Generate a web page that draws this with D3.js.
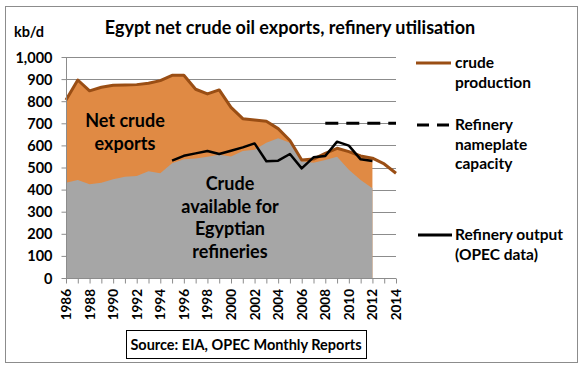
<!DOCTYPE html>
<html>
<head>
<meta charset="utf-8">
<script src="https://cdn.jsdelivr.net/npm/d3@7"></script>
<style>
  body { margin: 0; background: #fff; }
  svg text { font-family: Lato, "Open Sans", sans-serif; font-weight: bold; fill: #000; }
</style>
</head>
<body>
<script>
/* Data (kb/d) */
const years = d3.range(1986, 2015);
const crudeProduction = [805, 896, 847, 863, 872, 873, 875, 881, 893, 917, 917, 854, 833, 851, 772,
  721, 715, 709, 676, 622, 534, 538, 564, 587, 572, 552, 542, 516, 474];
const availableYears = d3.range(1986, 2013);
const crudeAvailable = [431, 443, 424, 431, 447, 458, 461, 483, 474, 519, 537, 541, 549, 558, 550,
  575, 580, 612, 632, 612, 528, 522, 534, 549, 490, 443, 406];
const refineryYears = d3.range(1995, 2013);
const refineryOutput = [531, 553, 564, 575, 561, 576, 591, 609, 528, 531, 561, 496, 546, 552, 617,
  599, 537, 529];
const capacityYears = [2008, 2014];
const capacity = [700, 700];
const yTicks = d3.range(0, 1001, 100);
const xLabels = d3.range(1986, 2015, 2);

const W = 586, H = 373;
const svg = d3.select('body').append('svg').attr('width', W).attr('height', H);

// outer frame
svg.append('rect').attr('x', 5.5).attr('y', 6.5).attr('width', 572).attr('height', 356)
  .attr('fill', '#fff').attr('stroke', '#8c8c8c');

const x = d3.scaleLinear().domain([1986, 2014]).range([66, 396]);
const y = d3.scaleLinear().domain([0, 1000]).range([278, 57]);

// gridlines
svg.append('g').selectAll('line').data(yTicks.slice(1)).join('line')
  .attr('x1', 66).attr('x2', 396)
  .attr('y1', d => Math.round(y(d)) + 0.5).attr('y2', d => Math.round(y(d)) + 0.5)
  .attr('stroke', '#8c8c8c');

// areas
const area = (ys, vals) => d3.area()
  .x((d, i) => x(ys[i])).y0(y(0)).y1(d => y(d))(vals);

svg.append('path').attr('d', area(availableYears, crudeProduction.slice(0, availableYears.length)))
  .attr('fill', '#e08a44');
svg.append('path').attr('d', area(availableYears, crudeAvailable)).attr('fill', '#a6a6a6');

const line = ys => d3.line().x((d, i) => x(ys[i])).y(d => y(d));

svg.append('path').attr('d', line(years)(crudeProduction))
  .attr('fill', 'none').attr('stroke', '#9a4e14').attr('stroke-width', 3).attr('stroke-linejoin', 'round');
svg.append('path').attr('d', line(refineryYears)(refineryOutput))
  .attr('fill', 'none').attr('stroke', '#000').attr('stroke-width', 2.5).attr('stroke-linejoin', 'round');
svg.append('path').attr('d', line(capacityYears)(capacity))
  .attr('fill', 'none').attr('stroke', '#000').attr('stroke-width', 3).attr('stroke-dasharray', '13,8');

// y axis
const yAxis = svg.append('g').attr('transform', 'translate(66.5,0)')
  .call(d3.axisLeft(y).tickValues(yTicks).tickSize(5).tickFormat(d3.format(',')));
yAxis.select('.domain').attr('stroke', '#8c8c8c').attr('d', `M0,${y(1000)}V${y(0)}`);
yAxis.selectAll('.tick line').attr('stroke', '#8c8c8c');
yAxis.selectAll('.tick text').attr('x', -14).attr('font-size', 14.5).attr('dy', '0.35em');

// x axis
const xAxis = svg.append('g').attr('transform', `translate(0,${y(0) + 0.5})`)
  .call(d3.axisBottom(x).tickValues(years).tickSize(5).tickFormat(''));
xAxis.select('.domain').attr('stroke', '#8c8c8c').attr('d', `M${x(1986)},0H${x(2014)}`);
xAxis.selectAll('.tick line').attr('stroke', '#8c8c8c');
svg.append('g').selectAll('text').data(xLabels).join('text')
  .attr('transform', d => `translate(${x(d) + 5},289) rotate(-90)`)
  .attr('text-anchor', 'end').attr('font-size', 13.5).text(d => d);

// title & unit
svg.append('text').attr('x', 290).attr('y', 34).attr('text-anchor', 'middle')
  .attr('font-size', 18).text('Egypt net crude oil exports, refinery utilisation');
svg.append('text').attr('x', 14).attr('y', 37).attr('font-size', 14.5).text('kb/d');

// in-chart labels
const multi = (lines, cx, y0, dy, size) => svg.append('text')
  .attr('text-anchor', 'middle').attr('font-size', size)
  .selectAll('tspan').data(lines).join('tspan')
  .attr('x', cx).attr('y', (d, i) => y0 + i * dy).text(d => d);
multi(['Net crude', 'exports'], 125, 127, 22.5, 18);
multi(['Crude', 'available for', 'Egyptian', 'refineries'], 230, 190, 22.5, 18);

// legend
const legend = svg.append('g');
legend.append('line').attr('x1', 416).attr('x2', 451).attr('y1', 63).attr('y2', 63)
  .attr('stroke', '#9a4e14').attr('stroke-width', 3);
legend.append('line').attr('x1', 417).attr('x2', 451).attr('y1', 125).attr('y2', 125)
  .attr('stroke', '#000').attr('stroke-width', 3).attr('stroke-dasharray', '12,8');
legend.append('line').attr('x1', 418).attr('x2', 452).attr('y1', 235).attr('y2', 235)
  .attr('stroke', '#000').attr('stroke-width', 3);
const legText = (lines, y0) => legend.append('text').attr('font-size', 15.5)
  .selectAll('tspan').data(lines).join('tspan')
  .attr('x', 455).attr('y', (d, i) => y0 + i * 19.5).attr('dy', '0.35em').text(d => d);
legText(['crude', 'production'], 63);
legText(['Refinery', 'nameplate', 'capacity'], 125);
legText(['Refinery output', '(OPEC data)'], 235);

// source box
svg.append('rect').attr('x', 126.5).attr('y', 330.5).attr('width', 240).attr('height', 28)
  .attr('fill', '#fff').attr('stroke', '#000');
svg.append('text').attr('x', 246).attr('y', 345).attr('dy', '0.35em').attr('text-anchor', 'middle')
  .attr('font-size', 14.5).text('Source: EIA, OPEC Monthly Reports');
</script>
</body>
</html>
